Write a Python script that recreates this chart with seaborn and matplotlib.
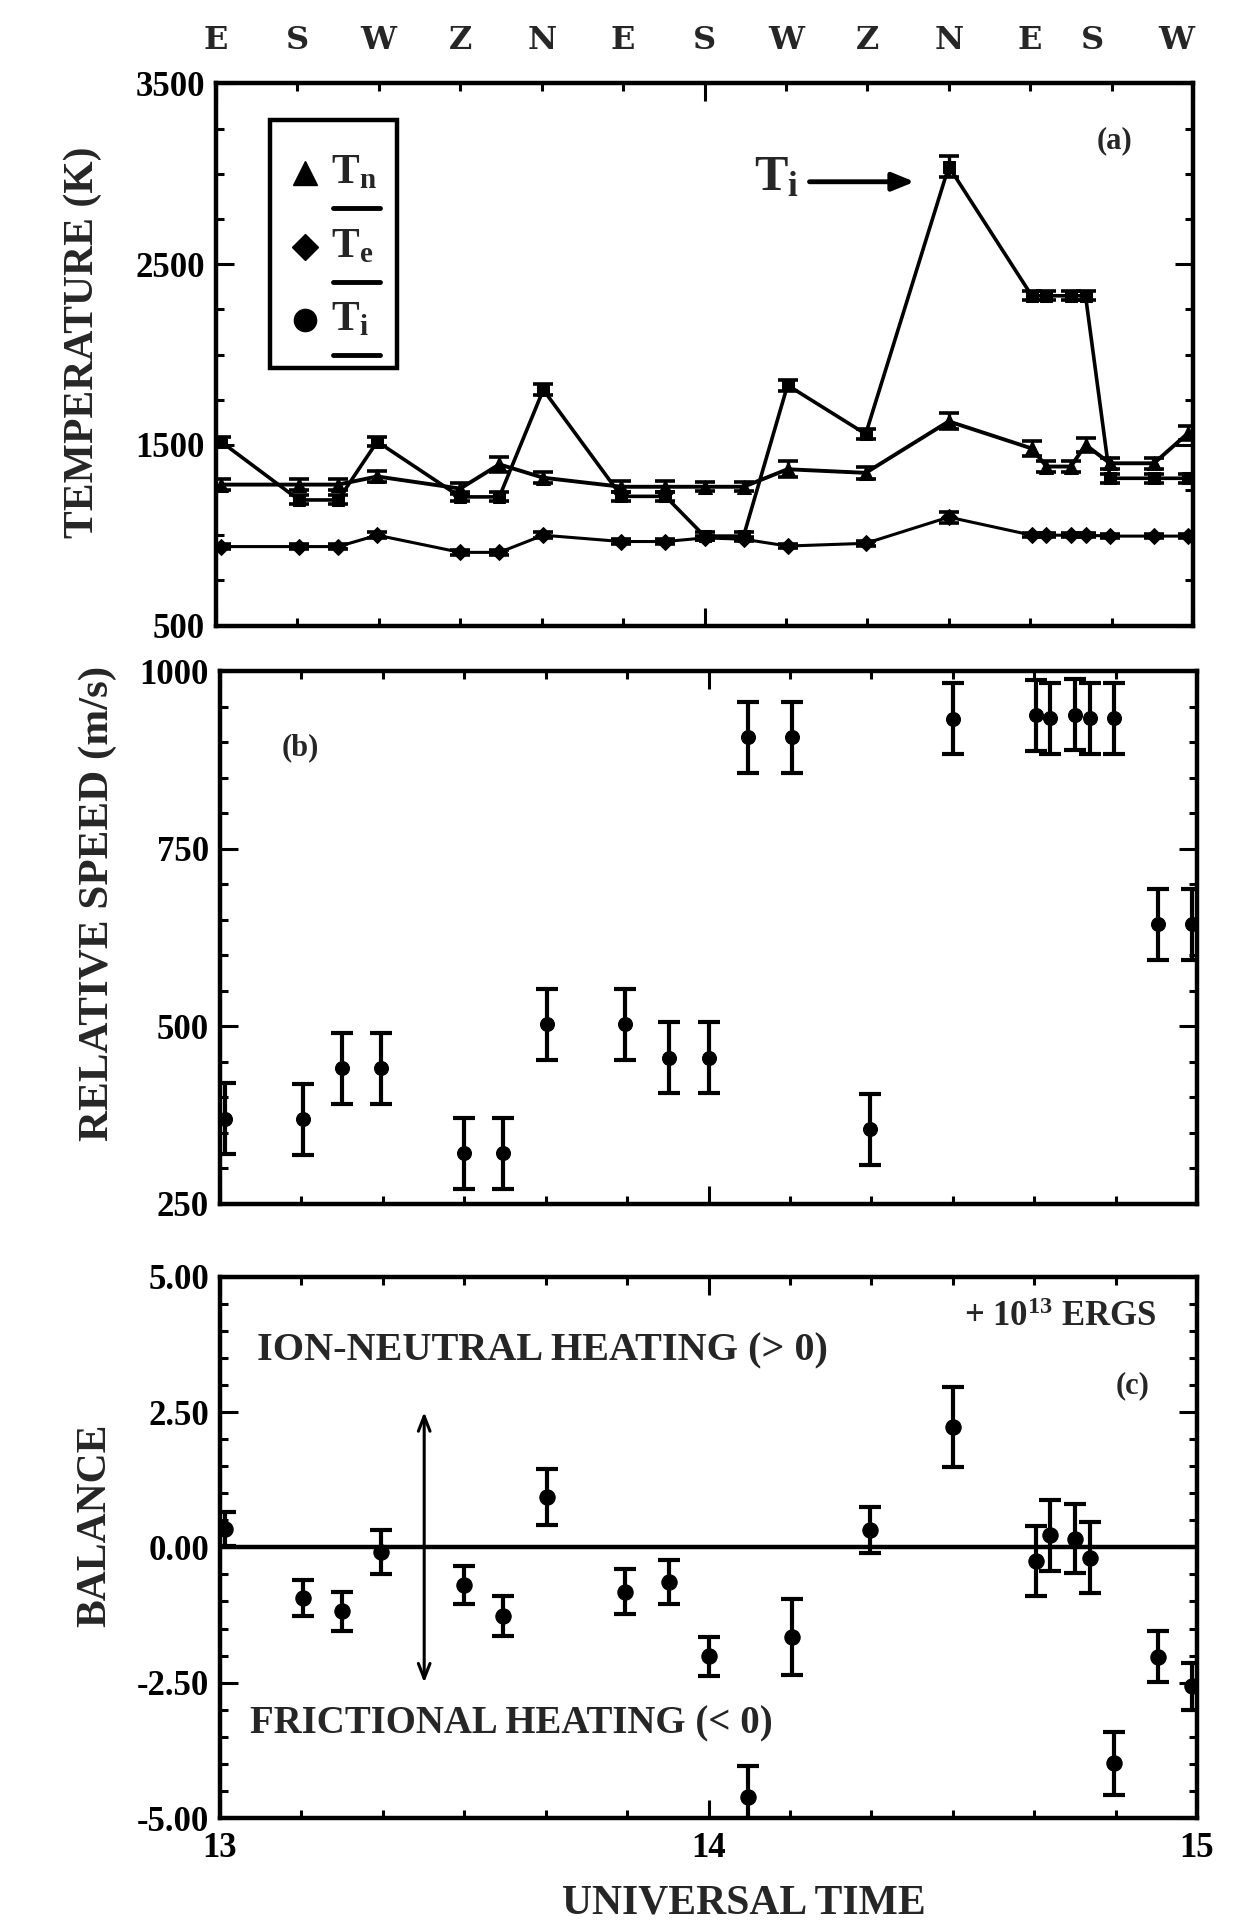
import numpy as np
import pandas as pd
import matplotlib
matplotlib.use("Agg")
import matplotlib.pyplot as plt
import matplotlib.patches as mpatches
import seaborn as sns
from matplotlib.ticker import MultipleLocator, FixedLocator, FormatStrFormatter

# ---------------- data ----------------
time_ut = [13.01, 13.17, 13.25, 13.33, 13.50, 13.58, 13.67, 13.83, 13.92, 14.00, 14.08,
           14.17, 14.33, 14.50, 14.67, 14.70, 14.75, 14.78, 14.83, 14.92, 14.99]

# panel (a) temperatures (K)
temp_ion = [1518, 1195, 1195, 1518, 1212, 1212, 1805, 1215, 1215, 995, 995,
            1830, 1560, 3040, 2325, 2325, 2325, 2325, 1315, 1315, 1315]
temp_ion_err = [25, 25, 25, 25, 25, 25, 30, 25, 25, 20, 20,
                30, 30, 60, 25, 25, 25, 25, 25, 25, 25]
temp_mid = [1280, 1280, 1280, 1325, 1258, 1392, 1318, 1268, 1268, 1268, 1268,
            1365, 1345, 1630, 1480, 1380, 1380, 1500, 1398, 1398, 1565]
temp_mid_err = [30, 30, 30, 30, 30, 40, 30, 30, 30, 25, 25,
                45, 35, 45, 40, 30, 30, 40, 30, 30, 40]
temp_low = [937, 937, 937, 1000, 905, 905, 1000, 965, 965, 985, 978,
            940, 955, 1100, 1000, 1000, 1000, 1000, 995, 995, 995]
temp_low_err = [12, 12, 12, 15, 12, 12, 15, 12, 12, 12, 12,
                12, 12, 30, 12, 12, 12, 12, 12, 12, 12]

# panel (b) relative speed (m/s)
rel_speed = [370, 369, 441, 441, 321, 321, 503, 503, 456, 456, 907,
             907, 355, 933, 938, 934, 939, 934, 934, 644, 644]
rel_speed_err = [50] * 21

# panel (c) balance (1e13 ergs)
balance = [0.34, -0.94, -1.18, -0.09, -0.70, -1.27, 0.93, -0.82, -0.64, -2.01, -4.62,
           -1.66, 0.32, 2.23, -0.25, 0.22, 0.16, -0.19, -3.99, -2.02, -2.57]
balance_err = [0.32, 0.33, 0.36, 0.41, 0.35, 0.37, 0.51, 0.42, 0.40, 0.36, 0.58,
               0.70, 0.43, 0.74, 0.65, 0.65, 0.64, 0.65, 0.58, 0.47, 0.44]

direction_labels = ["E", "S", "W", "Z", "N", "E", "S", "W", "Z", "N", "E", "S", "W"]
direction_times = [13.0, 13.167, 13.333, 13.5, 13.667, 13.833, 14.0, 14.167,
                   14.333, 14.5, 14.665, 14.795, 14.966]

temp_ticks = [500, 1500, 2500, 3500]
speed_ticks = [250, 500, 750, 1000]
balance_ticks = [-5.0, -2.5, 0.0, 2.5, 5.0]

df = pd.DataFrame({"time": time_ut, "Ti": temp_ion, "Tmid": temp_mid, "Tlow": temp_low,
                   "speed": rel_speed, "balance": balance})

# ---------------- style ----------------
sns.set_theme(style="ticks")
plt.rcParams["font.family"] = ["Liberation Serif", "DejaVu Serif"]
plt.rcParams["font.weight"] = "bold"
plt.rcParams["axes.unicode_minus"] = False
plt.rcParams["mathtext.fontset"] = "custom"
plt.rcParams["mathtext.rm"] = "Liberation Serif"
plt.rcParams["mathtext.bf"] = "Liberation Serif:bold"
plt.rcParams["mathtext.it"] = "Liberation Serif:italic"

fig = plt.figure(figsize=(12.5, 19.23), dpi=100)
fig.patch.set_facecolor("white")
ax_a = fig.add_axes([0.1728, 0.6747, 0.7816, 0.2819])
ax_b = fig.add_axes([0.176, 0.374, 0.7816, 0.2769])
ax_c = fig.add_axes([0.176, 0.0546, 0.7816, 0.2815])

TICK_FS = 25


def style(ax):
    ax.set_facecolor("white")
    for s in ax.spines.values():
        s.set_linewidth(3.2)
        s.set_color("black")
        s.set_visible(True)
    ax.set_xlim(13, 15)
    ax.xaxis.set_major_locator(MultipleLocator(1))
    ax.xaxis.set_minor_locator(MultipleLocator(1 / 6))
    ax.tick_params(which="both", direction="in", top=True, right=True,
                   colors="black", width=2.2, labelsize=TICK_FS)
    ax.tick_params(which="major", length=13)
    ax.tick_params(which="minor", length=6)
    ax.tick_params(axis="y", pad=8)
    ax.tick_params(axis="x", pad=10)
    ax.set_xlabel("")
    ax.set_ylabel("")
    for lab in ax.get_xticklabels() + ax.get_yticklabels():
        lab.set_fontweight("bold")


# ---------------- panel (a) ----------------
for col, err, mk, ms, lw in [("Tlow", temp_low_err, "D", 8, 2.2),
                             ("Tmid", temp_mid_err, "^", 10, 2.8),
                             ("Ti", temp_ion_err, "s", 9, 2.6)]:
    sns.lineplot(data=df, x="time", y=col, ax=ax_a, color="black", lw=lw,
                 marker=mk, markersize=ms, markeredgecolor="black", legend=False,
                 errorbar=None)
    ax_a.errorbar(df["time"], df[col], yerr=err, fmt="none", ecolor="black",
                  elinewidth=2.4, capsize=7, capthick=2.6)
style(ax_a)
ax_a.set_ylim(500, 3500)
ax_a.yaxis.set_major_locator(FixedLocator(temp_ticks))
ax_a.yaxis.set_minor_locator(MultipleLocator(250))
ax_a.tick_params(labelbottom=False)

# legend box drawn by hand
ax_a.add_patch(mpatches.Rectangle((0.055, 0.475), 0.130, 0.4575, transform=ax_a.transAxes,
                                  fill=False, lw=3.2, ec="black", zorder=5))
leg_items = [("^", 17, 0.835, 0.770, r"$\mathbf{T_n}$"),
             ("D", 13, 0.698, 0.634, r"$\mathbf{T_e}$"),
             ("o", 16, 0.564, 0.499, r"$\mathbf{T_i}$")]
for mk, ms, yy, yu, lab in leg_items:
    ax_a.plot([0.091], [yy], marker=mk, markersize=ms, color="black",
              transform=ax_a.transAxes, zorder=6, clip_on=False)
    ax_a.text(0.118, yy, lab, transform=ax_a.transAxes, fontsize=30,
              va="center", ha="left", zorder=6)
    ax_a.plot([0.12, 0.168], [yu, yu], transform=ax_a.transAxes, color="black",
              lw=3.5, solid_capstyle="round", zorder=6)

ax_a.text(14.84, 3183, "(a)", fontsize=22, ha="center", va="center", fontweight="bold")
ax_a.text(14.148, 2975, r"$\mathrm{T_i}$", fontsize=36, ha="center", va="center",
          fontweight="normal")
ax_a.annotate("", xy=(14.43, 2956), xytext=(14.215, 2956),
              arrowprops=dict(arrowstyle="-|>,head_length=1.1,head_width=0.45",
                              lw=3.5, color="black", shrinkA=0, shrinkB=0))

# top direction labels
sec = ax_a.secondary_xaxis("top")
sec.set_xticks(direction_times, labels=direction_labels)
sec.tick_params(length=0, pad=20, labelsize=23)
for lab in sec.get_xticklabels():
    lab.set_fontweight("bold")
    lab.set_family(["DejaVu Serif"])
sec.spines["top"].set_visible(False)

# ---------------- panel (b) ----------------
sns.scatterplot(data=df, x="time", y="speed", ax=ax_b, color="black", s=100,
                edgecolor="black", legend=False, zorder=3)
ax_b.errorbar(df["time"], df["speed"], yerr=rel_speed_err, fmt="none", ecolor="black",
              elinewidth=3, capsize=8, capthick=3)
style(ax_b)
ax_b.set_ylim(250, 1000)
ax_b.yaxis.set_major_locator(FixedLocator(speed_ticks))
ax_b.yaxis.set_minor_locator(MultipleLocator(50))
ax_b.tick_params(labelbottom=False)
ax_b.text(13.164, 892, "(b)", fontsize=22, ha="center", va="center", fontweight="bold")

# ---------------- panel (c) ----------------
ax_c.axhline(0, color="black", lw=3.2, zorder=2)
sns.scatterplot(data=df, x="time", y="balance", ax=ax_c, color="black", s=120,
                edgecolor="black", legend=False, zorder=3)
ax_c.errorbar(df["time"], df["balance"], yerr=balance_err, fmt="none", ecolor="black",
              elinewidth=3, capsize=8, capthick=3)
style(ax_c)
ax_c.set_ylim(-5, 5)
ax_c.yaxis.set_major_locator(FixedLocator(balance_ticks))
ax_c.yaxis.set_minor_locator(MultipleLocator(0.5))
ax_c.yaxis.set_major_formatter(FormatStrFormatter("%.2f"))
for lab in ax_c.get_xticklabels() + ax_c.get_yticklabels():
    lab.set_fontweight("bold")

ax_c.text(13.076, 3.62, "ION-NEUTRAL HEATING (> 0)", fontsize=29, ha="left",
          va="center", fontweight="bold")
ax_c.text(13.061, -3.26, "FRICTIONAL HEATING (< 0)", fontsize=28, ha="left",
          va="center", fontweight="bold")
ax_c.text(14.918, 4.24, r"+ 10$^{\mathbf{13}}$ ERGS", fontsize=25, ha="right",
          va="center", fontweight="bold")
ax_c.text(14.869, 2.98, "(c)", fontsize=22, ha="center", va="center", fontweight="bold")
ax_c.annotate("", xy=(13.418, 2.5), xytext=(13.418, -2.5),
              arrowprops=dict(arrowstyle="<->,head_length=0.9,head_width=0.35",
                              lw=2.2, color="black", shrinkA=0, shrinkB=0))

# ---------------- axis titles ----------------
fig.text(0.066, 0.822, "TEMPERATURE (K)", rotation=90, fontsize=30, ha="center",
         va="center", fontweight="bold")
fig.text(0.078, 0.530, "RELATIVE SPEED (m/s)", rotation=90, fontsize=31, ha="center",
         va="center", fontweight="bold")
fig.text(0.076, 0.207, "BALANCE", rotation=90, fontsize=30, ha="center",
         va="center", fontweight="bold")
fig.text(0.595, 0.0104, "UNIVERSAL TIME", fontsize=30, ha="center", va="center",
         fontweight="bold")

fig.savefig("out.png", dpi=100, facecolor="white")
